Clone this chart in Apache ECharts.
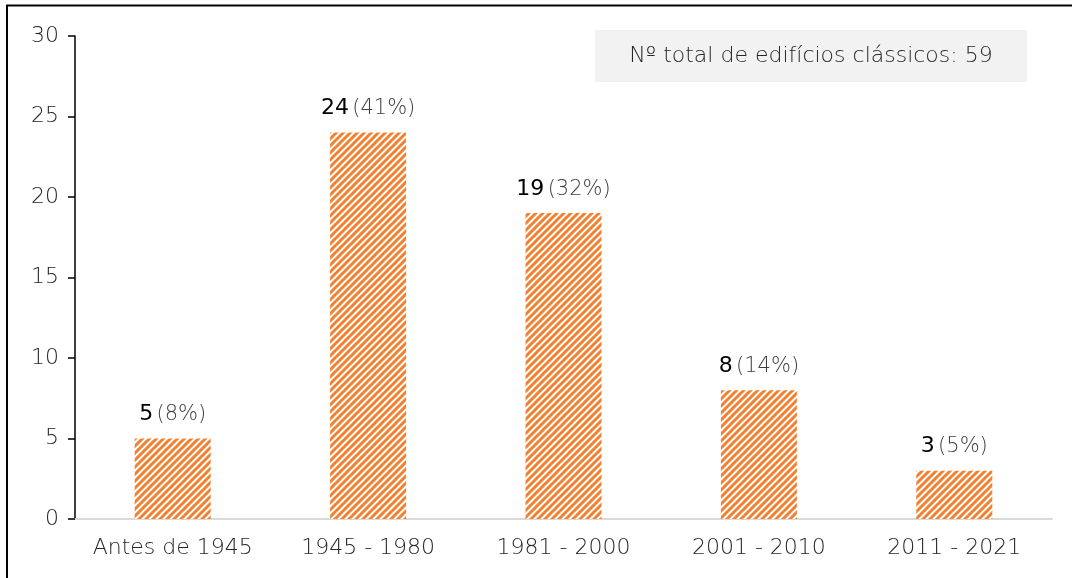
<!DOCTYPE html>
<html>
<head>
<meta charset="utf-8">
<script src="https://cdn.jsdelivr.net/npm/echarts@6/dist/echarts.min.js"></script>
<style>
html,body{margin:0;padding:0;background:#fff;}
#chart{width:1072px;height:578px;}
</style>
</head>
<body>
<div id="chart"></div>
<script>
const categories = ['Antes de 1945', '1945 - 1980', '1981 - 2000', '2001 - 2010', '2011 - 2021'];
const values = [5, 24, 19, 8, 3];
const percentLabels = ['(8%)', '(41%)', '(32%)', '(14%)', '(5%)'];
const yTicks = [0, 5, 10, 15, 20, 25, 30];
const totalText = 'Nº total de edifícios clássicos: 59';

const FONT = '"DejaVu Sans"';

function makeStripe() {
  const s = 7;
  const c = document.createElement('canvas');
  c.width = s; c.height = s;
  const ctx = c.getContext('2d');
  ctx.fillStyle = '#ffffff';
  ctx.fillRect(0, 0, s, s);
  ctx.strokeStyle = '#F4802F';
  ctx.lineWidth = 3;
  ctx.beginPath();
  for (let k = -1; k <= 1; k++) {
    ctx.moveTo(k * s - 1, s + 1);
    ctx.lineTo(k * s + s + 1, -1);
  }
  ctx.stroke();
  return c;
}

const chart = echarts.init(document.getElementById('chart'), null, {renderer: 'canvas'});
chart.setOption({
  animation: false,
  backgroundColor: '#ffffff',
  grid: {left: 75, right: 20, top: 36, bottom: 59, containLabel: false},
  xAxis: {
    type: 'category',
    data: categories,
    axisLine: {lineStyle: {color: '#D9D9D9', width: 2}},
    axisTick: {show: false},
    axisLabel: {interval: 0, hideOverlap: false, color: '#262626', fontFamily: FONT, fontWeight: 200, fontSize: 22, margin: 18}
  },
  yAxis: {
    type: 'value',
    min: 0, max: 30, interval: 5,
    axisLine: {show: true, lineStyle: {color: '#000', width: 1.5}},
    axisTick: {show: true, length: 7, lineStyle: {color: '#000', width: 1.5}},
    splitLine: {show: false},
    axisLabel: {color: '#262626', fontFamily: FONT, fontWeight: 200, fontSize: 22, margin: 16,
      formatter: v => yTicks.includes(v) ? String(v) : ''}
  },
  series: [{
    type: 'bar',
    data: values,
    barWidth: 76,
    itemStyle: {color: {image: makeStripe(), repeat: 'repeat'}},
    label: {
      show: true,
      position: 'top',
      distance: 13,
      formatter: p => '{v|' + p.value + '} {p|' + percentLabels[p.dataIndex] + '}',
      rich: {
        v: {color: '#000', fontFamily: FONT, fontWeight: 'normal', fontSize: 22},
        p: {color: '#404040', fontFamily: FONT, fontWeight: 200, fontSize: 21}
      }
    }
  }],
  graphic: [
    {type: 'polyline', shape: {points: [[7, 578], [7, 5.5], [1072, 5.5]]}, style: {stroke: '#000', lineWidth: 2, fill: null}},
    {type: 'rect', shape: {x: 595, y: 30, width: 432, height: 52}, style: {fill: '#F2F2F2'}},
    {type: 'text', x: 811, y: 56, style: {text: totalText, fill: '#262626', fontFamily: FONT, fontWeight: 200, fontSize: 22, align: 'center', verticalAlign: 'middle'}}
  ]
});
</script>
</body>
</html>
